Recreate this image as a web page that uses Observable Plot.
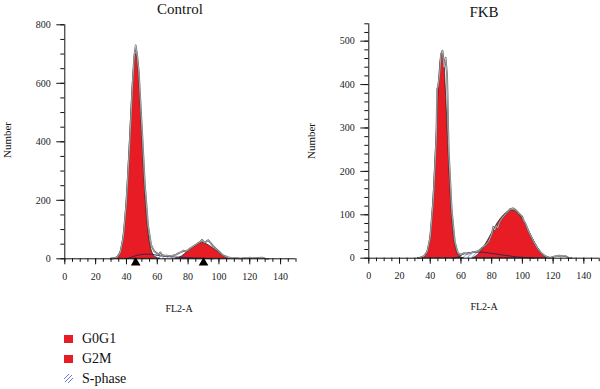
<!DOCTYPE html>
<html>
<head>
<meta charset="utf-8">
<script src="https://cdn.jsdelivr.net/npm/d3@7"></script>
<script src="https://cdn.jsdelivr.net/npm/@observablehq/plot@0.6"></script>
<style>
  body { margin: 0; background: #fff; }
  #wrap { position: relative; width: 600px; height: 389px; font-family: "Liberation Serif", "Times New Roman", "DejaVu Serif", serif; color: #111; overflow: hidden; }
  #wrap svg text { font-family: "Liberation Serif", "Times New Roman", "DejaVu Serif", serif; }
  .pl { position: absolute; top: 0; }
  .t { position: absolute; white-space: nowrap; transform: translate(-50%, -50%); }
  .ylab { position: absolute; white-space: nowrap; transform: translate(-50%, -50%) rotate(-90deg); font-size: 11px; }
  .leg { position: absolute; left: 64px; font-size: 14px; }
  .leg div { position: absolute; left: 0; white-space: nowrap; height: 16px; line-height: 16px; }
  .sw { display: inline-block; width: 9px; height: 8px; background: #e81c24; vertical-align: middle; margin-right: 9px; position: relative; top: -1px; }
</style>
</head>
<body>
<div id="wrap"></div>
<script>
// ---- data ----
const panelTitles = ["Control", "FKB"];
const xLabel = "FL2-A";
const yLabel = "Number";
const legendLabels = ["G0G1", "G2M", "S-phase"];

const xMajorTicks = [0, 20, 40, 60, 80, 100, 120, 140];
const xMinorTicks = [0, 5, 10, 15, 20, 25, 30, 35, 40, 45, 50, 55, 60, 65, 70, 75, 80, 85, 90, 95, 100, 105, 110, 115, 120, 125, 130, 135, 140, 145, 150];
const ctrlYMajor = [0, 200, 400, 600, 800];
const ctrlYMinor = [0, 50, 100, 150, 200, 250, 300, 350, 400, 450, 500, 550, 600, 650, 700, 750, 800];
const fkbYMajor = [0, 100, 200, 300, 400, 500];
const fkbYMinor = [0, 20, 40, 60, 80, 100, 120, 140, 160, 180, 200, 220, 240, 260, 280, 300, 320, 340, 360, 380, 400, 420, 440, 460, 480, 500, 520, 540];

const ctrlG0G1 = [[30,0],[32,1],[34,5],[36,20],[38,70],[40,185],[42,375],[44,585],[45,660],[46,700],[47,690],[48,640],[50,450],[52,245],[54,105],[56,35],[58,10],[60,2],[62,0]];
const ctrlG2M = [[72,0],[74,3],[76,8],[78,16],[80,25],[82,33],[84,41],[86,48],[88,53],[90,54],[92,50],[94,44],[96,37],[98,29],[100,21],[102,13],[104,7],[106,3],[108,0]];
const ctrlS = [[40,0],[42,3],[44,7],[46,11],[48,13],[50,15],[52,16],[54,16],[56,15],[58,14],[60,12],[62,10],[64,9],[66,8],[68,7],[72,6],[76,5],[80,4],[84,3],[88,2],[92,1],[96,0]];
const ctrlRaw = [[30,0],[32,2],[34,6],[36,22],[38,75],[40,195],[42,385],[44,600],[45,690],[46,730],[47,695],[48,640],[50,450],[52,250],[54,115],[56,48],[58,26],[60,18],[61,15],[62,22],[63,14],[64,12],[66,11],[68,10],[70,11],[72,14],[74,20],[76,24],[77,28],[78,25],[80,30],[82,38],[84,45],[86,52],[88,58],[89,65],[90,58],[91,55],[92,60],[93,64],[94,58],[96,45],[98,35],[100,25],[102,15],[104,9],[106,5],[108,3],[110,2],[112,2],[114,1],[116,2],[118,2],[120,4],[122,2],[124,2],[126,3],[128,4],[130,1],[132,0]];
const ctrlMarkers = [46, 90];

const fkbG0G1 = [[32,0],[34,1],[36,3],[38,12],[40,45],[42,130],[44,272],[46,420],[47,460],[48,475],[49,460],[50,400],[52,245],[54,110],[56,36],[58,10],[60,2],[62,0]];
const fkbG2M = [[68,0],[70,4],[72,11],[74,20],[76,31],[78,43],[80,56],[82,69],[84,81],[86,91],[88,99],[90,105],[92,109],[94,110],[96,107],[98,100],[100,91],[102,79],[104,65],[106,50],[108,36],[110,24],[112,14],[114,7],[116,3],[118,0]];
const fkbS = [[56,0],[58,3],[60,7],[62,10],[64,12],[66,13],[68,14],[70,14],[72,14],[74,14],[76,13],[80,11],[84,9],[88,7],[92,5],[96,3],[100,2],[104,1],[108,0]];
const fkbRaw = [[32,0],[34,2],[36,5],[38,15],[40,48],[42,135],[44,280],[44.5,390],[45,395],[46,420],[47,470],[48,478],[49,440],[50,462],[51,420],[52,250],[54,110],[56,38],[58,12],[60,8],[62,12],[64,10],[66,12],[68,14],[70,15],[72,18],[74,25],[76,30],[78,38],[80,55],[81,72],[82,65],[83,75],[84,70],[85,82],[86,88],[88,98],[90,105],[92,113],[94,115],[96,110],[98,102],[100,95],[101,85],[102,80],[104,62],[106,48],[108,34],[110,22],[112,13],[114,7],[116,3],[118,1],[120,3],[122,5],[124,6],[126,5],[128,5],[130,1],[132,0]];

// ---- drawing ----
const RED = "#e81c24";
const FONT = "'Liberation Serif', 'Times New Roman', 'DejaVu Serif', serif";
const wrap = document.getElementById("wrap");

function panel(cfg) {
  const X = d => d[0], Y = d => d[1];
  const marks = [
    Plot.areaY(cfg.s, {x: X, y: Y, fill: `url(#${cfg.id})`, curve: "catmull-rom"}),
    Plot.areaY(cfg.g1, {x: X, y: Y, fill: RED, stroke: "#111", strokeWidth: 0.7, curve: "catmull-rom"}),
    Plot.areaY(cfg.g2, {x: X, y: Y, fill: RED, stroke: "#111", strokeWidth: 0.7, curve: "catmull-rom"}),
    Plot.line(cfg.s, {x: X, y: Y, stroke: "#2b2450", strokeWidth: 0.9, curve: "catmull-rom"}),
    Plot.line(cfg.raw, {x: X, y: Y, stroke: "#555", strokeWidth: 1.7}),
    Plot.line(cfg.raw, {x: X, y: Y, stroke: "#fff", strokeWidth: 0.5}),
    Plot.ruleY([0], {stroke: "#111", strokeWidth: 1}),
    Plot.ruleX([0], {stroke: "#111", strokeWidth: 1}),
    Plot.axisX(xMinorTicks, {tickSize: 3.5, tickFormat: () => "", label: null, stroke: "#111"}),
    Plot.axisX(xMajorTicks, {tickSize: 6, tickPadding: 8, label: null, stroke: "#111", fill: "#222", fontFamily: FONT}),
    Plot.axisY(cfg.yMinor, {tickSize: 4, tickFormat: () => "", label: null, stroke: "#111"}),
    Plot.axisY(cfg.yMajor, {tickSize: 8, tickPadding: 6, label: null, stroke: "#111", fill: "#222", fontFamily: FONT})
  ];
  if (cfg.markers) {
    marks.push(Plot.dot(cfg.markers, {x: d => d, y: 0, dy: 4, symbol: "triangle", r: 3.6, fill: "#000", stroke: null}));
  }
  const svg = Plot.plot({
    width: 300,
    height: 320,
    marginLeft: cfg.ml,
    marginRight: cfg.mr,
    marginTop: cfg.mt,
    marginBottom: cfg.mb,
    style: {fontFamily: FONT, fontSize: "10px", background: "transparent", overflow: "visible"},
    x: {domain: [0, 150]},
    y: {domain: cfg.yDomain},
    marks
  });
  const defs = d3.select(svg).insert("defs", ":first-child");
  const pat = defs.append("pattern")
    .attr("id", cfg.id).attr("patternUnits", "userSpaceOnUse")
    .attr("width", 3).attr("height", 3).attr("patternTransform", "rotate(45)");
  pat.append("rect").attr("width", 3).attr("height", 3).attr("fill", "#fff");
  pat.append("line").attr("x1", 0).attr("y1", 0).attr("x2", 0).attr("y2", 3)
    .attr("stroke", "#4a5bd0").attr("stroke-width", 1);
  svg.classList.add("pl");
  svg.style.left = cfg.left + "px";
  wrap.appendChild(svg);
}

panel({id: "hatchC", left: 0, ml: 64.3, mr: 4.5, mt: 24.3, mb: 61.7, yDomain: [0, 800],
  yMajor: ctrlYMajor, yMinor: ctrlYMinor, g1: ctrlG0G1, g2: ctrlG2M, s: ctrlS, raw: ctrlRaw, markers: ctrlMarkers});
panel({id: "hatchF", left: 300, ml: 68.3, mr: 1.3, mt: 23.3, mb: 62.3, yDomain: [0, 540],
  yMajor: fkbYMajor, yMinor: fkbYMinor, g1: fkbG0G1, g2: fkbG2M, s: fkbS, raw: fkbRaw, markers: null});

function addText(txt, x, y, size, cls) {
  const d = document.createElement("div");
  d.className = cls || "t";
  d.textContent = txt;
  d.style.left = x + "px";
  d.style.top = y + "px";
  if (size) d.style.fontSize = size + "px";
  wrap.appendChild(d);
}
addText(panelTitles[0], 180, 9, 15);
addText(panelTitles[1], 484, 12, 15);
addText(xLabel, 179, 308, 10);
addText(xLabel, 484, 306, 10);
addText(yLabel, 7, 140, null, "ylab");
addText(yLabel, 311, 141, null, "ylab");

// legend
const leg = document.createElement("div");
leg.className = "leg";
leg.style.top = "331px";
const rowsTop = [0, 20, 40];
legendLabels.forEach((lab, i) => {
  const row = document.createElement("div");
  row.style.top = rowsTop[i] + "px";
  let sw;
  if (i < 2) {
    sw = '<span class="sw"></span>';
  } else {
    sw = '<svg width="9" height="9" style="vertical-align:middle;margin-right:9px;position:relative;top:-1px">' +
      '<line x1="0" y1="5" x2="5" y2="0" stroke="#4a5bd0" stroke-width="0.8"/>' +
      '<line x1="1" y1="8" x2="8" y2="1" stroke="#4a5bd0" stroke-width="0.8"/>' +
      '<line x1="4" y1="9" x2="9" y2="4" stroke="#4a5bd0" stroke-width="0.8"/></svg>';
  }
  row.innerHTML = sw + '<span>' + lab + '</span>';
  leg.appendChild(row);
});
wrap.appendChild(leg);
</script>
</body>
</html>
